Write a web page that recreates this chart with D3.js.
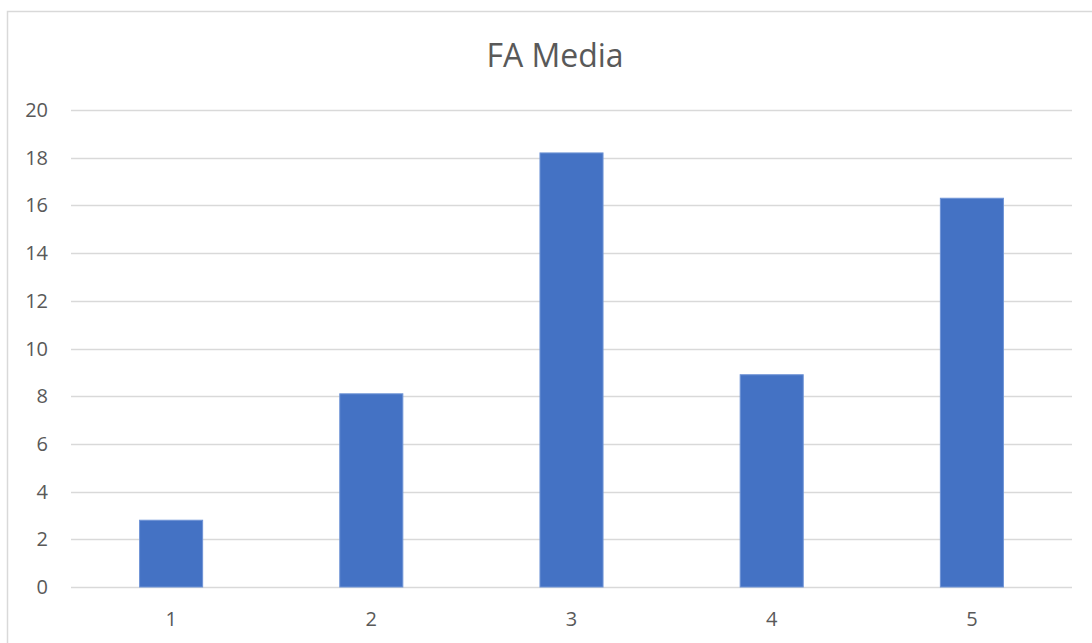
<!DOCTYPE html>
<html>
<head>
<meta charset="utf-8">
<script src="https://cdn.jsdelivr.net/npm/d3@7"></script>
<style>
  body { margin: 0; background: #fff; }
  svg text { font-family: "Open Sans", "Liberation Sans", sans-serif; fill: #595959; }
</style>
</head>
<body>
<svg id="chart" width="1092" height="643"></svg>
<script>
const title = "FA Media"
const categories = ["1", "2", "3", "4", "5"]
const values = [2.8, 8.1, 18.2, 8.9, 16.3]
const yTicks = [0, 2, 4, 6, 8, 10, 12, 14, 16, 18, 20]

const svg = d3.select("#chart")

// chart area border
svg.append("rect")
    .attr("x", 7.5).attr("y", 11.5)
    .attr("width", 1100).attr("height", 640)
    .attr("fill", "#fff")
    .attr("stroke", "#d9d9d9")
    .attr("stroke-width", 1.5)

const plot = {left: 71, right: 1072, top: 110, bottom: 587}

const x = d3.scaleBand()
    .domain(categories)
    .range([plot.left, plot.right])
    .paddingInner(0.685)
    .paddingOuter(0.3425)

const y = d3.scaleLinear()
    .domain([0, 20])
    .range([plot.bottom, plot.top])

// gridlines
svg.append("g")
    .selectAll("line")
    .data(yTicks)
    .enter()
    .append("line")
    .attr("x1", plot.left).attr("x2", plot.right)
    .attr("y1", d => Math.round(y(d)) + 0.5)
    .attr("y2", d => Math.round(y(d)) + 0.5)
    .attr("stroke", "#d9d9d9")
    .attr("stroke-width", 1.5)

// y labels
svg.append("g")
    .selectAll("text")
    .data(yTicks)
    .enter()
    .append("text")
    .attr("x", 48)
    .attr("y", d => y(d))
    .attr("dy", "0.35em")
    .attr("text-anchor", "end")
    .style("font-size", "20px")
    .text(d => d)

// bars
svg.append("g")
    .selectAll("rect")
    .data(values)
    .enter()
    .append("rect")
    .attr("x", (d, i) => x(categories[i]))
    .attr("y", d => y(d))
    .attr("width", x.bandwidth())
    .attr("height", d => y(0) - y(d))
    .attr("fill", "#4472c4")
    .attr("stroke", "#6f94d6")
    .attr("stroke-width", 1)

// x labels
svg.append("g")
    .selectAll("text")
    .data(categories)
    .enter()
    .append("text")
    .attr("x", d => x(d) + x.bandwidth() / 2)
    .attr("y", 626)
    .attr("text-anchor", "middle")
    .style("font-size", "20px")
    .text(d => d)

svg.append("text")
    .attr("x", 555)
    .attr("y", 67)
    .attr("text-anchor", "middle")
    .style("font-size", "32px")
    .text(title)
</script>
</body>
</html>
